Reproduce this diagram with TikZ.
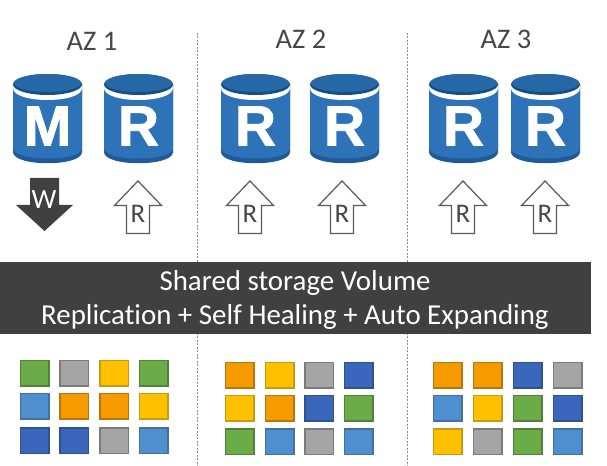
\documentclass[tikz,border=0pt]{standalone}
\usepackage{fontspec}
\setmainfont{Carlito}[Ligatures={NoCommon}]
\newfontfamily\dbfont{Liberation Sans}[UprightFont={* Bold},FakeBold=1.5]
\definecolor{dbblue}{HTML}{2E73B8}
\definecolor{dbdark}{HTML}{1F5B98}
\definecolor{dbtop}{HTML}{174F85}
\definecolor{band}{HTML}{404040}
\definecolor{sgreen}{HTML}{6CAC48}\definecolor{sgreenE}{HTML}{53813A}
\definecolor{sgrey}{HTML}{A5A5A5}\definecolor{sgreyE}{HTML}{7B7B7B}
\definecolor{syellow}{HTML}{FFC000}\definecolor{syellowE}{HTML}{C79A12}
\definecolor{sorange}{HTML}{F59B00}\definecolor{sorangeE}{HTML}{B8760E}
\definecolor{slight}{HTML}{4F8FCF}\definecolor{slightE}{HTML}{41719C}
\definecolor{sblue}{HTML}{3A66BC}\definecolor{sblueE}{HTML}{2F528F}
\tikzset{
  azlabel/.style={text=black!72,font=\fontsize{28.5}{30}\selectfont,inner sep=0pt,anchor=center},
  dblabel/.style={text=white,font=\dbfont\fontsize{57}{57}\selectfont,inner sep=0pt,anchor=center},
  rlabel/.style={text=black!72,font=\fontsize{27}{28}\selectfont,inner sep=0pt,anchor=center},
  wlabel/.style={text=white,font=\fontsize{28}{29}\selectfont,inner sep=0pt,anchor=center},
  divider/.style={draw=black!45,line width=1pt,dash pattern=on 2pt off 1.5pt},
  bandtext/.style={text=white,font=\fontsize{29}{31}\selectfont,inner sep=0pt,anchor=center},
  cell/.style={line width=1.5pt},
  rarrow/.style={draw=black!65,fill=white,line width=1.2pt,line join=miter},
}
\newcommand{\dbcyl}[3]{% left x, top y, letter
  \begin{scope}[shift={(#1,#2)}]
    \fill[dbdark] (0,10) -- (0,78) .. controls (0,93) and (69,93) .. (69,78) -- (69,10) -- cycle;
    \fill[dbblue] (0,10) -- (0,74) .. controls (0,88) and (69,88) .. (69,74) -- (69,10) -- cycle;
    \fill[white] (0,10) -- (0,14) .. controls (0,30) and (69,30) .. (69,14) -- (69,10) -- cycle;
    \fill[dbtop] (34.5,10.5) ellipse[x radius=34.5,y radius=10.5];
    \fill[dbblue!65!dbtop] (34.5,9) ellipse[x radius=33.5,y radius=9];
    \node[dblabel] at (34.5,52) {#3};
  \end{scope}}
\newcommand{\uparrowR}[1]{% centre x
  \draw[rarrow] (#1,181) -- (#1+23.5,205.5) -- (#1+11.5,205.5) -- (#1+11.5,233.5) -- (#1-11.5,233.5) -- (#1-11.5,205.5) -- (#1-23.5,205.5) -- cycle;
  \node[rlabel] at (#1,214) {R};}
\newcommand{\sq}[3]{% x, y, colour
  \draw[cell,fill=#3,draw=#3E] (#1+.6,#2+.6) rectangle ++(28.6,25.6);}
\begin{document}
\begin{tikzpicture}[x=1bp,y=-1bp]
\useasboundingbox (0,0) rectangle (607,466);
\fill[white] (0,0) rectangle (607,466);
\draw[divider] (197,33) -- (197,466);
\draw[divider] (407,33) -- (407,466);
\node[azlabel] (az1) at (92,41) {AZ 1};
\node[azlabel] (az2) at (301,39) {AZ 2};
\node[azlabel] (az3) at (506,39) {AZ 3};
\dbcyl{13}{74}{M}
\dbcyl{104}{74}{R}
\dbcyl{221}{74}{R}
\dbcyl{310}{74}{R}
\dbcyl{429}{74}{R}
\dbcyl{511}{74}{R}
\fill[band] (30,178) -- (59,178) -- (59,205) -- (73,205) -- (44.5,231) -- (16,205) -- (30,205) -- cycle;
\node[wlabel] (w) at (44,199.5) {W};
\uparrowR{138}
\uparrowR{250}
\uparrowR{342}
\uparrowR{463}
\uparrowR{545}
\fill[band] (0,262) rectangle (591,334);
\node[bandtext] (line1) at (295,282.5) {Shared storage Volume};
\node[bandtext] (line2) at (295,317) {Replication + Self Healing + Auto Expanding};
\foreach \x/\y/\c in {
 20/360/sgreen,59.5/360/sgrey,99.5/360/syellow,139/360/sgreen,
 20/393/slight,59.5/393/sorange,99.5/393/sorange,139/393/syellow,
 20/427.5/sblue,59.5/427.5/sblue,99.5/427.5/sgrey,139/427.5/slight,
 225/362/sorange,265/362/syellow,304.5/362/sgrey,344/362/sblue,
 225/395/syellow,265/395/sorange,304.5/395/sblue,344/395/sgreen,
 225/428.5/sgreen,265/428.5/slight,304.5/428.5/sgrey,344/428.5/slight,
 433/362/sorange,473/362/sorange,513/362/sblue,553/362/sgrey,
 433/395/slight,473/395/syellow,513/395/sgreen,553/395/sblue,
 433/428.5/syellow,473/428.5/sgrey,513/428.5/sgreen,553/428.5/slight}{
  \sq{\x}{\y}{\c}
}
\end{tikzpicture}
\end{document}
